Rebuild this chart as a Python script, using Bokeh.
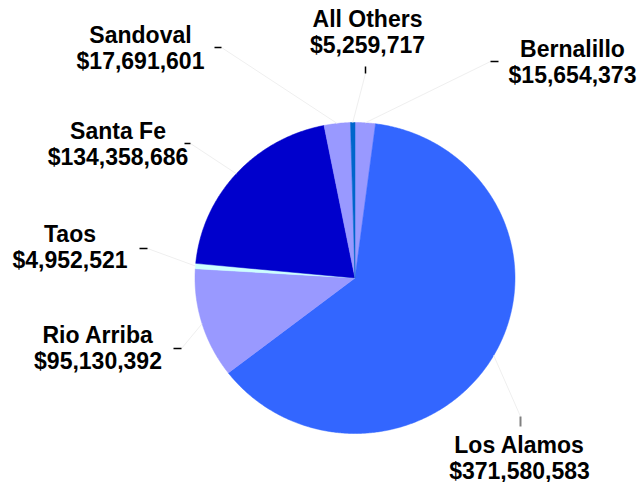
import numpy as np
from bokeh.plotting import figure
from bokeh.models import Range1d, ColumnDataSource
from bokeh.core.properties import value
from bokeh.embed import file_html
from bokeh.resources import INLINE

# ---------------- data ----------------
counties = ["Bernalillo", "Los Alamos", "Rio Arriba", "Taos", "Santa Fe", "Sandoval", "All Others"]
amounts = [15654373, 371580583, 95130392, 4952521, 134358686, 17691601, 5259717]
# share of the pie as drawn in the picture (percent), clockwise from 12 o'clock
slice_share_pct = [2.05, 62.5, 11.4, 0.55, 20.4, 2.65, 0.45]
colors = ["#9999FF", "#3366FF", "#9999FF", "#CCFFFF", "#0000CC", "#9999FF", "#0066CC"]

# ---------------- layout (pixels, y downward) ----------------
W, H = 640, 482
CX, CY, RX, RY = 354.5, 277.5, 160.0, 155.5
label_x = [572, 519, 97.5, 69.5, 117.5, 140, 367]
label_base = [48, 444, 334, 233, 130, 34, 18]
LINE_GAP = 26
# tick marks near labels: (x0, y0, x1, y1), leader attaches at (x1, y1)
ticks = [
    (498, 61, 490, 61),
    (520, 426, 520, 416),
    (173, 348, 181, 348),
    (139, 248, 147, 248),
    (184, 143, 190, 143),
    (214, 47, 221, 47),
    (365, 66, 365, 73),
]
tick_colors = ["#000000", "#808080", "#000000", "#000000", "#000000", "#000000", "#000000"]
tick_widths = [1.5, 2, 1.5, 1.5, 1.5, 1.5, 1.5]

p = figure(width=W, height=H, output_backend="svg", toolbar_location=None,
           x_range=Range1d(0, W), y_range=Range1d(H, 0), min_border=0)
p.axis.visible = False
p.xgrid.visible = False
p.ygrid.visible = False
p.outline_line_color = None
p.background_fill_color = "white"
p.border_fill_color = "white"

shares = np.array(slice_share_pct, dtype=float)
cum = np.concatenate([[0.0], np.cumsum(shares / shares.sum())]) * 2 * np.pi

xs, ys, mids = [], [], []
for i in range(len(counties)):
    a0, a1 = cum[i], cum[i + 1]
    n = max(4, int(np.ceil((a1 - a0) / (np.pi / 360))))
    t = np.linspace(a0, a1, n)
    xs.append([CX] + list(CX + RX * np.sin(t)))
    ys.append([CY] + list(CY - RY * np.cos(t)))
    mids.append((a0 + a1) / 2)

p.patches(xs=xs, ys=ys, fill_color=colors, line_color=colors, line_width=0.5)

# leader lines from slice edge to the tick
mids = np.array(mids)
ex = CX + RX * np.sin(mids)
ey = CY - RY * np.cos(mids)
lx = [t[2] for t in ticks]
ly = [t[3] for t in ticks]
p.segment(x0=list(ex), y0=list(ey), x1=lx, y1=ly, line_color="#efefef", line_width=1)

p.segment(x0=[t[0] for t in ticks], y0=[t[1] for t in ticks],
          x1=[t[2] for t in ticks], y1=[t[3] for t in ticks],
          line_color=tick_colors, line_width=tick_widths)

amount_text = ["${:,}".format(a) for a in amounts]
src = ColumnDataSource(dict(x=label_x, y1=label_base,
                            y2=[b + LINE_GAP for b in label_base],
                            name=counties, amt=amount_text))
common = dict(text_font=value("Liberation Sans"), text_font_style="bold",
              text_font_size="23px", text_align="center",
              text_baseline="alphabetic", text_color="#000000")
p.text(x="x", y="y1", text="name", source=src, **common)
p.text(x="x", y="y2", text="amt", source=src, **common)

open("out.html", "w").write(file_html(p, INLINE))
